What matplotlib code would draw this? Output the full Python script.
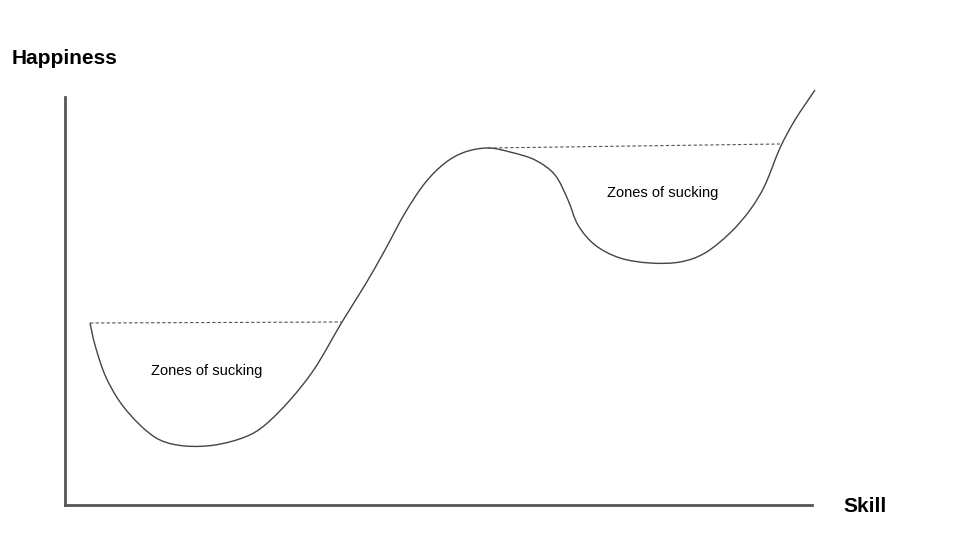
import matplotlib.pyplot as plt
from matplotlib.path import Path
from matplotlib.patches import PathPatch

# curve (pixel space, y grows downward)
skill = [90, 95, 105, 120, 140, 160, 185, 215, 245, 265, 290, 315, 342, 365, 385,
         405, 425, 445, 465, 488, 510, 535, 555, 568, 578, 595, 620, 650, 680, 705,
         730, 750, 765, 780, 795, 815]
happiness = [323, 345, 375, 402, 425, 440, 446, 445, 437, 425, 400, 368, 322, 285, 250,
             213, 183, 163, 152, 148, 152, 160, 175, 200, 225, 245, 258, 263, 262, 253,
             233, 210, 185, 148, 120, 90]

# dashed "water level" lines over the two dips
dash1_x, dash1_y = [90, 342], [323, 322]
dash2_x, dash2_y = [488, 780], [148, 144]

zone_labels = ["Zones of sucking", "Zones of sucking"]
zone_x = [207, 663]
zone_y = [371, 193]

fig = plt.figure(figsize=(9.6, 5.4), dpi=100)
ax = fig.add_axes([0, 0, 1, 1])
ax.set_xlim(0, 960)
ax.set_ylim(540, 0)
ax.axis('off')

# hand-drawn style axes
ax.plot([65, 65], [97, 505], color='#555555', lw=2)
ax.plot([65, 812], [505, 505], color='#555555', lw=2)

# smooth the curve through the read points (Catmull-Rom as cubic beziers)
pts = list(zip(skill, happiness))
verts = [pts[0]]
codes = [Path.MOVETO]
for i in range(len(pts) - 1):
    p0 = pts[max(i - 1, 0)]
    p1, p2 = pts[i], pts[i + 1]
    p3 = pts[min(i + 2, len(pts) - 1)]
    c1 = (p1[0] + (p2[0] - p0[0]) / 6, p1[1] + (p2[1] - p0[1]) / 6)
    c2 = (p2[0] - (p3[0] - p1[0]) / 6, p2[1] - (p3[1] - p1[1]) / 6)
    verts += [c1, c2, p2]
    codes += [Path.CURVE4] * 3
ax.add_patch(PathPatch(Path(verts, codes), fill=False, edgecolor='#444444', lw=1))

ax.plot(dash1_x, dash1_y, color='#555555', lw=0.8, ls=(0, (3, 2)))
ax.plot(dash2_x, dash2_y, color='#555555', lw=0.8, ls=(0, (3, 2)))

for t, x, y in zip(zone_labels, zone_x, zone_y):
    ax.text(x, y, t, fontsize=10.5, ha='center', va='center', family='Liberation Sans')

ax.text(12, 58, "Happiness", fontsize=15, fontweight='bold', va='center', family='Liberation Sans')
ax.text(843, 507, "Skill", fontsize=15, fontweight='bold', va='center', family='Liberation Sans')

fig.savefig('out.png', dpi=100)
